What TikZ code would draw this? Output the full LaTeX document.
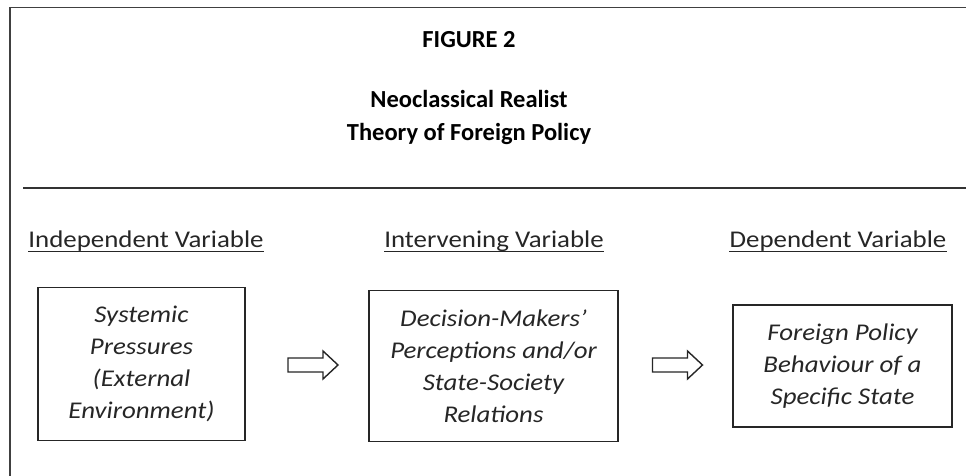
\documentclass[tikz,border=0pt]{standalone}
\usepackage{fontspec}
\setmainfont{Carlito}
\newfontfamily\widefont{Carlito}[FakeStretch=1.12]

\tikzset{
  frameline/.style={draw=black!75, line width=1.8pt},
  heading/.style={font=\fontsize{24.5}{28}\selectfont\bfseries, inner sep=0pt, anchor=base},
  varlabel/.style={font=\widefont\fontsize{24}{28}\selectfont, inner sep=0pt, anchor=base, text=black!85},
  uline/.style={draw=black!85, line width=1.3pt},
  varbox/.style={draw=black!85, line width=1.6pt, align=center, inner sep=0pt,
    font=\widefont\fontsize{24}{32}\selectfont\itshape, text=black!85},
  arrowline/.style={draw=black!85, line width=1.4pt, fill=white, line join=miter},
  pics/hollowarrow/.style={code={
    \draw[arrowline] (-25,-7) -- (10,-7) -- (10,-14) -- (25,0) -- (10,14)
      -- (10,7) -- (-25,7) -- cycle;
  }}
}

\begin{document}
\begin{tikzpicture}[x=1pt, y=-1pt]
  % page extent
  \useasboundingbox (0,0) rectangle (966,476);

  % frame: top edge and left edge, plus the rule under the title block
  \coordinate (tl) at (10,7.5);
  \coordinate (tr) at (966,7.5);
  \coordinate (bl) at (10,476);
  \draw[frameline] (tr) -- (tl) -- (bl);
  \coordinate (rl) at (23,188);
  \coordinate (rr) at (966,188);
  \draw[draw=black!80, line width=1.6pt] (rl) -- (rr);

  % title block
  \node[heading] (fig)   at (469,48)  {FIGURE 2};
  \node[heading] (title1) at (469,108) {Neoclassical Realist};
  \node[heading] (title2) at (469,140) {Theory of Foreign Policy};

  % column headings, underlined
  \node[varlabel] (indep) at (146,247) {Independent Variable};
  \node[varlabel] (inter) at (494,247) {Intervening Variable};
  \node[varlabel] (dep)   at (838,247) {Dependent Variable};
  \foreach \n in {indep,inter,dep}
    \draw[uline] ([yshift=-4.5pt]\n.base west) -- ([yshift=-4.5pt]\n.base east);

  % variable boxes
  \node[varbox, minimum width=207pt, minimum height=153pt] (sys) at (141.5,364)
    {Systemic\\Pressures\\(External\\Environment)};
  \node[varbox, minimum width=249pt, minimum height=151pt] (dm) at (493.5,366)
    {Decision-Makers’\\Perceptions and/or\\State-Society\\Relations};
  \node[varbox, minimum width=219pt, minimum height=122pt] (fp) at (842.5,366)
    {Foreign Policy\\Behaviour of a\\Specific State};

  % hollow arrows between the boxes
  \coordinate (a1) at (313,365);
  \coordinate (a2) at (677.5,365);
  \pic at (a1) {hollowarrow};
  \pic at (a2) {hollowarrow};
\end{tikzpicture}
\end{document}
